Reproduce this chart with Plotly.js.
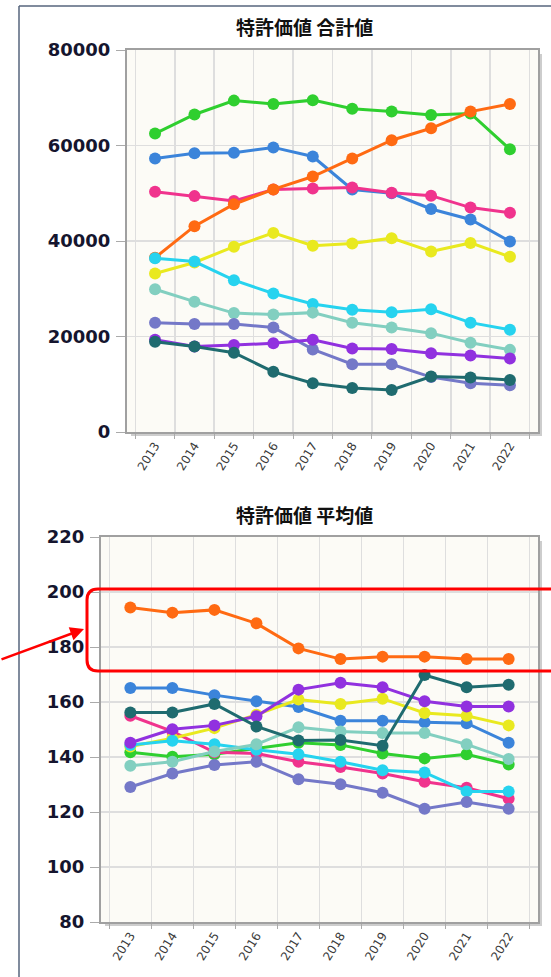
<!DOCTYPE html>
<html>
<head>
<meta charset="utf-8">
<script src="https://cdn.plot.ly/plotly-3.0.1.min.js"></script>
<style>html,body{margin:0;padding:0;background:#fff;}#chart{width:551px;height:977px;}</style>
</head>
<body>
<div id="chart"></div>
<script>
// ---------- data ----------
const years = ['2013','2014','2015','2016','2017','2018','2019','2020','2021','2022'];

const titleTotal = '特許価値 合計値';
const titleMean = '特許価値 平均値';

const seriesNames = ['系列1','系列2','系列3','系列4','系列5','系列6','系列7','系列8','系列9','系列10'];
const seriesColors = ['#2fcf2f','#3b84da','#f0338d','#ff6a12','#e9e91f','#26d3ef','#82cfc0','#7478c8','#9131df','#1f6b6f'];

// 合計値 (top chart)
const totalGreen    = [62500, 66500, 69400, 68700, 69500, 67700, 67100, 66400, 66700, 59200];
const totalBlue     = [57300, 58400, 58500, 59600, 57700, 50800, 50000, 46700, 44500, 39900];
const totalPink     = [50300, 49400, 48400, 50800, 51000, 51200, 50100, 49500, 47000, 45900];
const totalOrange   = [36500, 43100, 47700, 50800, 53500, 57300, 61100, 63600, 67100, 68700];
const totalYellow   = [33200, 35500, 38800, 41700, 39000, 39500, 40600, 37800, 39600, 36700];
const totalCyan     = [36400, 35700, 31800, 29000, 26800, 25600, 25100, 25700, 22900, 21400];
const totalLtTeal   = [29900, 27300, 24900, 24600, 25000, 22900, 21900, 20700, 18700, 17200];
const totalLavender = [22900, 22600, 22600, 21900, 17300, 14200, 14200, 11500, 10200, 9800];
const totalPurple   = [19300, 17900, 18200, 18600, 19300, 17500, 17400, 16500, 16000, 15400];
const totalDkTeal   = [18900, 17900, 16600, 12600, 10200, 9200, 8800, 11600, 11400, 10900];

// 平均値 (bottom chart)
const meanGreen    = [141.7, 140.1, 141.0, 143.2, 145.2, 144.4, 141.3, 139.5, 141.0, 137.3];
const meanBlue     = [165.1, 165.1, 162.5, 160.3, 158.2, 153.2, 153.2, 152.6, 152.3, 145.2];
const meanPink     = [155.0, 149.3, 141.7, 141.3, 138.3, 136.4, 134.0, 131.0, 128.8, 124.8];
const meanOrange   = [194.4, 192.5, 193.5, 188.6, 179.5, 175.6, 176.5, 176.5, 175.6, 175.6];
const meanYellow   = [143.8, 146.8, 150.5, 155.4, 160.9, 159.3, 161.2, 156.0, 155.0, 151.5];
const meanCyan     = [144.4, 145.9, 144.6, 142.6, 141.0, 138.3, 135.2, 134.4, 127.5, 127.5];
const meanLtTeal   = [136.8, 138.3, 142.0, 144.6, 150.8, 149.3, 148.7, 148.7, 144.6, 139.3];
const meanLavender = [129.1, 134.0, 137.1, 138.3, 131.9, 130.1, 127.0, 121.2, 123.6, 121.2];
const meanPurple   = [145.2, 150.1, 151.5, 154.8, 164.5, 167.0, 165.4, 160.3, 158.4, 158.4];
const meanDkTeal   = [156.2, 156.2, 159.3, 151.1, 146.0, 146.2, 144.1, 169.8, 165.4, 166.3];

const totalTickVals = [0, 20000, 40000, 60000, 80000];
const totalTickText = ['0', '20000', '40000', '60000', '80000'];
const meanTickVals = [80, 100, 120, 140, 160, 180, 200, 220];
const meanTickText = ['80', '100', '120', '140', '160', '180', '200', '220'];

// ---------- build ----------
const W = 551, H = 977;
const px = x => x / W;
const py = y => 1 - y / H;

const totals = [totalGreen,totalBlue,totalPink,totalOrange,totalYellow,totalCyan,totalLtTeal,totalLavender,totalPurple,totalDkTeal];
const means  = [meanGreen,meanBlue,meanPink,meanOrange,meanYellow,meanCyan,meanLtTeal,meanLavender,meanPurple,meanDkTeal];

const traces = [];
totals.forEach((ys, i) => traces.push({
  x: years, y: ys, xaxis: 'x', yaxis: 'y', type: 'scatter', mode: 'lines+markers',
  name: seriesNames[i], showlegend: false,
  line: {color: seriesColors[i], width: 3}, marker: {color: seriesColors[i], size: 12}
}));
means.forEach((ys, i) => traces.push({
  x: years, y: ys, xaxis: 'x2', yaxis: 'y2', type: 'scatter', mode: 'lines+markers',
  name: seriesNames[i], showlegend: false,
  line: {color: seriesColors[i], width: 3}, marker: {color: seriesColors[i], size: 12}
}));

const tickFontY = {family: 'DejaVu Sans', size: 18, color: '#15152e', weight: 'bold'};
const tickFontX = {family: 'DejaVu Sans', size: 12, color: '#3a3a3a'};

function xAxis(domain, anchor) {
  return {
    domain: domain, anchor: anchor, type: 'category', tickson: 'boundaries',
    tickangle: -58, tickfont: tickFontX, ticks: 'outside', ticklen: 5, tickcolor: '#aaaaaa',
    showgrid: true, gridcolor: '#dedede', gridwidth: 1.5,
    showline: true, linecolor: '#a0a0a0', linewidth: 2, mirror: true,
    zeroline: false, fixedrange: true
  };
}
function yAxis(domain, anchor, range, tickvals, ticktext) {
  return {
    domain: domain, anchor: anchor, range: range, tickmode: 'array',
    tickvals: tickvals, ticktext: ticktext,
    tickfont: tickFontY, ticks: 'outside', ticklen: 9, tickcolor: '#aaaaaa',
    showgrid: true, gridcolor: '#dedede', gridwidth: 1.5,
    showline: true, linecolor: '#a0a0a0', linewidth: 2, mirror: true,
    zeroline: false, fixedrange: true, ticklabelstandoff: 2
  };
}

const topX = [px(127), px(538)], topY = [py(432), py(50)];
const botX = [px(101), px(538)], botY = [py(922), py(537)];

// rounded red box
const bx0 = 87, bx1 = 570, by0 = 589, by1 = 671, r = 11;
const boxPath = 'M ' + px(bx0 + r) + ',' + py(by0) +
  ' L ' + px(bx1) + ',' + py(by0) +
  ' L ' + px(bx1) + ',' + py(by1) +
  ' L ' + px(bx0 + r) + ',' + py(by1) +
  ' Q ' + px(bx0) + ',' + py(by1) + ' ' + px(bx0) + ',' + py(by1 - r) +
  ' L ' + px(bx0) + ',' + py(by0 + r) +
  ' Q ' + px(bx0) + ',' + py(by0) + ' ' + px(bx0 + r) + ',' + py(by0) + ' Z';

const shadow = '#cdcdcd';
const layout = {
  width: W, height: H, autosize: false,
  margin: {l: 0, r: 0, t: 0, b: 0, pad: 0},
  paper_bgcolor: '#ffffff', plot_bgcolor: '#fcfbf6',
  showlegend: false,
  xaxis: xAxis(topX, 'y'),
  yaxis: yAxis(topY, 'x', [0, 80000], totalTickVals, totalTickText),
  xaxis2: xAxis(botX, 'y2'),
  yaxis2: yAxis(botY, 'x2', [80, 220], meanTickVals, meanTickText),
  shapes: [
    // plot shadows (right + bottom strips, outside plot area)
    {type: 'rect', xref: 'paper', yref: 'paper', layer: 'below',
     x0: px(539), x1: px(542), y0: py(436), y1: py(54), fillcolor: shadow, line: {width: 0}},
    {type: 'rect', xref: 'paper', yref: 'paper', layer: 'below',
     x0: px(131), x1: px(542), y0: py(436), y1: py(433), fillcolor: shadow, line: {width: 0}},
    {type: 'rect', xref: 'paper', yref: 'paper', layer: 'below',
     x0: px(539), x1: px(542), y0: py(926), y1: py(541), fillcolor: shadow, line: {width: 0}},
    {type: 'rect', xref: 'paper', yref: 'paper', layer: 'below',
     x0: px(105), x1: px(542), y0: py(926), y1: py(923), fillcolor: shadow, line: {width: 0}},
    // outer frame
    {type: 'line', xref: 'paper', yref: 'paper', x0: px(19), x1: 1.01, y0: py(6), y1: py(6),
     line: {color: '#56647c', width: 1.5}},
    {type: 'line', xref: 'paper', yref: 'paper', x0: px(19), x1: px(19), y0: py(6), y1: -0.01,
     line: {color: '#56647c', width: 1.5}},
    // red highlight box
    {type: 'path', xref: 'paper', yref: 'paper', path: boxPath, layer: 'above',
     line: {color: '#ff0000', width: 3}}
  ],
  annotations: [
    {text: titleTotal, xref: 'paper', yref: 'paper', x: px(304), y: py(27), showarrow: false,
     xanchor: 'center', yanchor: 'middle',
     font: {family: 'Noto Sans CJK JP', size: 19, color: '#111111', weight: 'bold'}},
    {text: titleMean, xref: 'paper', yref: 'paper', x: px(304), y: py(514), showarrow: false,
     xanchor: 'center', yanchor: 'middle',
     font: {family: 'Noto Sans CJK JP', size: 19, color: '#111111', weight: 'bold'}},
    {text: '', xref: 'paper', yref: 'paper', x: px(84), y: py(629), showarrow: true,
     ax: -92, ay: 31, arrowhead: 2, arrowsize: 1.1, arrowwidth: 2.5, arrowcolor: '#ff0000', standoff: 0}
  ]
};

Plotly.newPlot('chart', traces, layout, {staticPlot: true, displayModeBar: false});
</script>
</body>
</html>
